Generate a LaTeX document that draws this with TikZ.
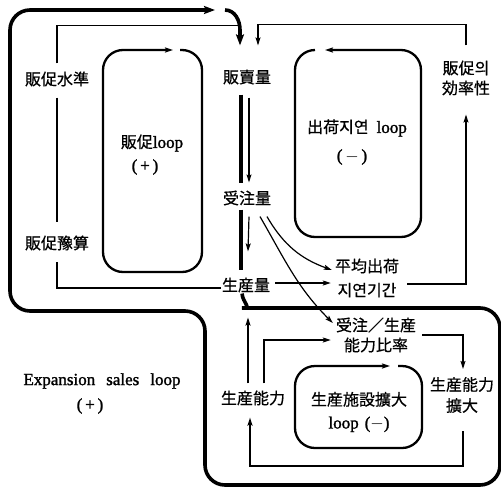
\documentclass[tikz,border=0pt]{standalone}
\usepackage{fontspec}
\newfontfamily\kr{Noto Sans CJK KR}[FakeBold=0.6]
\newfontfamily\lmb{Liberation Serif}[FakeBold=1.5]
\usetikzlibrary{arrows.meta,calc}
\begin{document}
\begin{tikzpicture}[
  x=1pt,y=1pt,
  lbl/.style={font=\kr\fontsize{16}{#1}\selectfont, inner sep=1pt, align=center},
  lbl/.default=20,
  lat/.style={font=\lmb\fontsize{17}{19}\selectfont, inner sep=1pt, align=center},
  thinl/.style={line width=1.2pt},
  midl/.style={line width=1.8pt},
  loopl/.style={line width=2.3pt, rounded corners=20pt},
  outerl/.style={line width=3.6pt},
  arr/.style={-{Stealth[length=8pt,width=5pt,inset=1.5pt]}},
  bigarr/.style={-{Stealth[length=11pt,width=8pt,inset=2pt]}}
]
\useasboundingbox (0,0) rectangle (501,-488);

% text nodes
\node[lbl] (sj) at (57,-79) {販促水準};
\node[lbl] (sy) at (57,-243) {販促豫算};
\node[lbl] (hm) at (247,-77) {販賣量};
\node[lbl] (ju) at (247,-198) {受注量};
\node[lbl] (sa) at (246,-285) {生産量};
\node[lbl=20] (ko) at (466,-78) {販促의\\効率性};
\node[lbl=24] (hj) at (367,-278) {平均出荷\\지연기간};
\node[lbl=20] (hr) at (376,-335) {受注／生産\\能力比率};
\node[lbl] (sn) at (253,-398) {生産能力};
\node[lbl=21] (sk) at (462,-395) {生産能力\\擴大};

% loop labels
\node[lbl] (l1) at (152,-143) {販促{\lmb\fontsize{17}{19}\selectfont loop}};
\node[lat] (l1s) at (145,-167) {(\,+\,)};
\node[lbl] (l2) at (357,-128) {出荷지연\hspace{8pt}{\lmb\fontsize{17}{19}\selectfont loop}};
\node[lat] (l2s) at (352,-157) {(\,$-$\,)};
\node[lbl=23] (l3) at (359,-412) {生産施設擴大\\{\lmb\fontsize{17}{19}\selectfont loop\hspace{6pt}($-$)}};
\node[lat] (l4) at (102,-381) {Expansion\hspace{11pt}sales\hspace{11pt}loop};
\node[lat] (l4s) at (90,-406) {(\,+\,)};

% loop rectangles
\draw[loopl, arr] (180,-50) -| (202,-272) -| (103,-50) -- (173,-50);
\draw[loopl, arr] (315,-50) -| (295,-237) -| (421,-50) -- (325,-50);
\draw[loopl, arr] (398,-366) -| (422,-448) -| (295,-366) -- (390,-366);

% outer expansion loop
\coordinate (topgap) at (225,-10);
\draw[outerl, rounded corners=20pt, bigarr] ([xshift=-4pt]sa.south) to[out=-85,in=180] (262,-308)
   -| (500,-485) -| (205,-311) -| (10,-10) -- (215,-10);
\draw[outerl, bigarr] (topgap) to[out=0,in=90] (240,-30) -- ([xshift=-7pt,yshift=23pt]hm.north);
\draw[outerl] ([xshift=-6pt,yshift=-9pt]hm.south) -- ([xshift=-6pt,yshift=6pt]ju.north);
\draw[outerl] ([xshift=-6pt,yshift=-3pt]ju.south) -- ([xshift=-5pt,yshift=6pt]sa.north);

% causal links
\draw[thinl] ([yshift=7pt]sj.north) |- ([xshift=-9pt,yshift=43pt]hm.north);
\draw[thinl] ([yshift=-10pt]sj.south) -- ([yshift=12pt]sy.north);
\draw[thinl] ([yshift=-3pt]sa.west) -| ([yshift=-10pt]sy.south);
\draw[thinl, arr] ([yshift=14pt]ko.north) |- ([xshift=11pt,yshift=44pt]hm.north) -- ([xshift=11pt,yshift=23pt]hm.north);
\draw[thinl, arr] ([xshift=7pt,yshift=-6pt]hj.east) -| ([yshift=-18pt]ko.south);
\draw[thinl, arr] ([xshift=2pt,yshift=-12pt]hm.south) -- ([xshift=2pt,yshift=7pt]ju.north);
\draw[thinl, arr] ([xshift=2pt,yshift=-10pt]ju.south) -- ([xshift=2pt,yshift=25pt]sa.north);
\draw[thinl, arr] ([xshift=20pt,yshift=-10pt]ju.south) to[out=-60,in=160] ([xshift=-2pt,yshift=8pt]hj.west);
\draw[thinl, arr] ([xshift=13pt,yshift=-10pt]ju.south) to[out=-60,in=135] ([xshift=-2pt,yshift=12pt]hr.west);
\draw[thinl, arr] ([xshift=4pt,yshift=2pt]sa.east) -- ([xshift=-3pt,yshift=-5pt]hj.west);
\draw[thinl, arr] ([xshift=11pt,yshift=6pt]sn.north) |- ([xshift=-4pt,yshift=-5pt]hr.west);
\draw[midl, arr] ([xshift=-5pt,yshift=6pt]sn.north) -- ([xshift=2pt,yshift=-24pt]sa.south);
\draw[thinl, arr] ([xshift=5pt]hr.east) -| ([xshift=1pt,yshift=7pt]sk.north);
\draw[midl, arr] ([xshift=1pt,yshift=-17pt]sk.south) -- ++(0,-35) -| ([xshift=-3pt,yshift=-11pt]sn.south);
\end{tikzpicture}
\end{document}
